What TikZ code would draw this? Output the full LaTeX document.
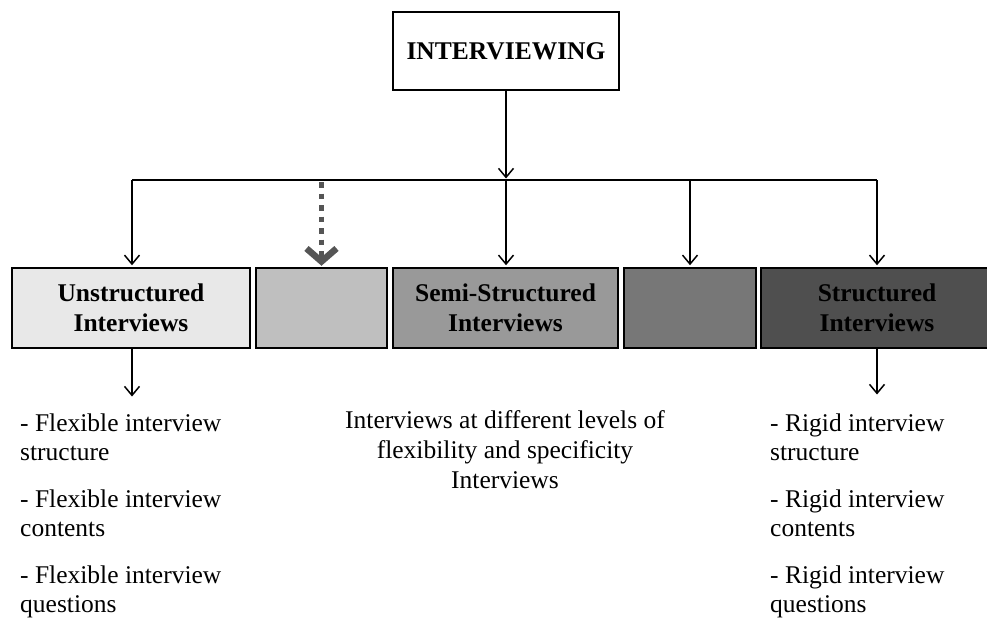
\documentclass[tikz,border=0pt]{standalone}
\usepackage{fontspec}
\setmainfont{Liberation Serif}
\usetikzlibrary{arrows.meta}
\definecolor{shadeA}{HTML}{E8E8E8}
\definecolor{shadeB}{HTML}{BFBFBF}
\definecolor{shadeC}{HTML}{999999}
\definecolor{shadeD}{HTML}{777777}
\definecolor{shadeE}{HTML}{4F4F4F}
\definecolor{dotgray}{HTML}{555555}
\begin{document}
\begin{tikzpicture}[x=1pt,y=-1pt,
  box/.style={draw=black, line width=2.5pt, minimum height=80pt, inner sep=0pt,
    align=center, font=\fontsize{25.5}{30}\selectfont\bfseries},
  link/.style={line width=1.5pt, -{Straight Barb[length=9pt,width=15pt]}, shorten >=1.5pt},
  hint/.style={line width=5.5pt, dotgray, dash pattern=on 5.5pt off 6pt,
    -{Straight Barb[length=13pt,width=30pt,line width=6.5pt]}, shorten >=1pt},
  note/.style={align=left, anchor=base west, inner sep=0pt,
    font=\fontsize{25.5}{29}\selectfont},
  midnote/.style={align=center, anchor=base, inner sep=0pt,
    font=\fontsize{25.5}{30}\selectfont},
]
\useasboundingbox (0,0) rectangle (987,619);
\fill[white] (0,0) rectangle (987,619);

% root and the row of interview types
\node[box, minimum width=226pt, minimum height=78pt] (root) at (506,51) {INTERVIEWING};
\node[box, fill=shadeA, minimum width=238pt] (unstr) at (131,308) {Unstructured\\Interviews};
\node[box, fill=shadeB, minimum width=131pt] (midA) at (321.5,308) {};
\node[box, fill=shadeC, minimum width=225pt] (semi) at (505.5,308) {Semi-Structured\\Interviews};
\node[box, fill=shadeD, minimum width=132pt] (midB) at (690,308) {};
\node[box, fill=shadeE, minimum width=232pt] (str) at (877,308) {Structured\\Interviews};

% distribution bus
\coordinate (busL) at (132,180);
\coordinate (busR) at (877,180);
\coordinate (busC) at (root.south |- busL);
\draw[line width=2pt] (busL) -- (busR);
\draw[link] (root.south) -- (busC);
\draw[link] (busL) -- (busL |- unstr.north);
\draw[link] (busC) -- (busC |- semi.north);
\draw[link] (midB.north |- busL) -- (midB.north);
\draw[link] (busR) -- (busR |- str.north);
\draw[hint] (midA.north |- busL) ++(0,2) -- (midA.north);

% characteristics
\coordinate (flexEnd) at (132,398);
\coordinate (rigidEnd) at (877,396);
\draw[link] (unstr.south -| flexEnd) -- (flexEnd);
\draw[link] (str.south -| rigidEnd) -- (rigidEnd);

% the base anchor of a multi-line node sits on its last line
\node[note] (flexA) at (20,460) {- Flexible interview\\structure};
\node[note] (flexB) at (20,536) {- Flexible interview\\contents};
\node[note] (flexC) at (20,612) {- Flexible interview\\questions};

\node[midnote] (semiNote) at (505,488) {Interviews at different levels of\\flexibility and specificity\\Interviews};

\node[note] (rigidA) at (770,460) {- Rigid interview\\structure};
\node[note] (rigidB) at (770,536) {- Rigid interview\\contents};
\node[note] (rigidC) at (770,612) {- Rigid interview\\questions};
\end{tikzpicture}
\end{document}
